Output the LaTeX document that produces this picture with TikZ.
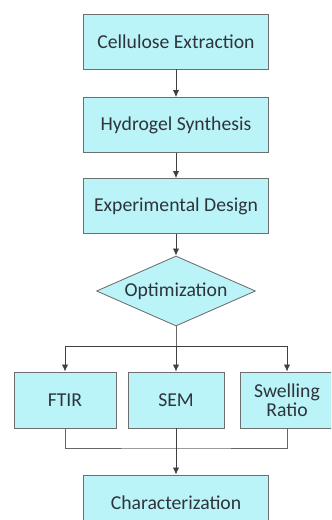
\documentclass[tikz,border=0pt]{standalone}
\usepackage{fontspec}
\setmainfont{Carlito}
\usetikzlibrary{arrows.meta,shapes.geometric}
\definecolor{boxfill}{RGB}{186,243,248}
\definecolor{boxline}{RGB}{110,110,110}
\definecolor{textgray}{RGB}{45,52,58}
\tikzset{
  stepbox/.style={draw=boxline, fill=boxfill, line width=0.6pt, minimum width=4.625cm,
    minimum height=1.37cm, text=textgray, align=center},
  smallbox/.style={stepbox, minimum height=1.4cm},
  decision/.style={diamond, draw=boxline, fill=boxfill, line width=0.6pt, aspect=2.27,
    minimum width=3.975cm, minimum height=1.75cm, inner sep=0pt, text=textgray},
  flow/.style={draw=black!75, line width=0.6pt, -{Latex[length=5pt,width=4.5pt]}},
  link/.style={draw=black!60, line width=0.6pt}
}
\begin{document}
\begin{tikzpicture}[font=\fontsize{14}{15.5}\selectfont]
  \clip (0,0) rectangle (8.275,-13);

  \node[stepbox] (extract) at (4.4,-1.04) {Cellulose Extraction};
  \node[stepbox] (synth) at (4.4,-3.125) {Hydrogel Synthesis};
  \node[stepbox] (design) at (4.4,-5.15) {Experimental Design};
  \node[decision] (opt) at (4.4,-7.275) {Optimization};

  \node[smallbox, minimum width=2.55cm] (ftir) at (1.625,-10.0) {FTIR};
  \node[smallbox, minimum width=2.4cm] (sem) at (4.4,-10.0) {SEM};
  \node[smallbox, minimum width=2.35cm] (swell) at (7.175,-10.0) {Swelling\\[-2pt]Ratio};

  \node[stepbox] (charac) at (4.4,-12.56) {Characterization};

  \coordinate (split) at (4.4,-8.65);
  \coordinate (merge) at (4.4,-11.2);

  \draw[flow] (extract) -- (synth);
  \draw[flow] (synth) -- (design);
  \draw[flow] (design) -- (opt);

  \draw[link] (opt.south) -- (split);
  \draw[flow] (split) -| (ftir.north);
  \draw[flow] (split) -- (sem.north);
  \draw[flow] (split) -| (swell.north);

  \draw[link] (ftir.south) |- (merge) -| (swell.south);
  \draw[flow] (sem.south) -- (charac.north);
\end{tikzpicture}
\end{document}
